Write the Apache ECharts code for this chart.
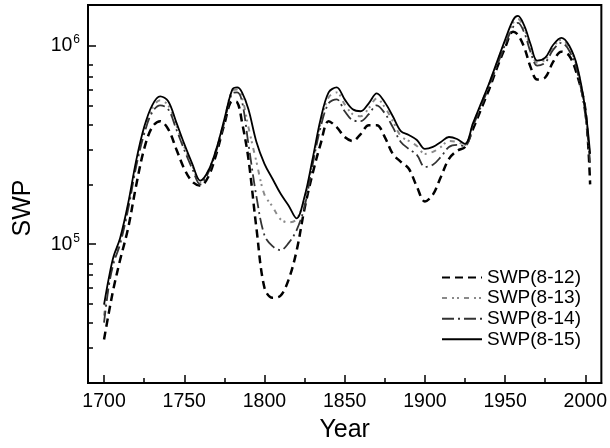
<!DOCTYPE html>
<html>
<head>
<meta charset="utf-8">
<script src="https://cdn.jsdelivr.net/npm/echarts@6/dist/echarts.min.js"></script>
<style>
  html, body { margin: 0; padding: 0; background: #fff; }
  #chart { width: 610px; height: 448px; }
</style>
</head>
<body>
<div id="chart"></div>
<script>
// values
const years = [1700, 1703, 1706, 1710, 1715, 1720, 1725, 1730, 1735, 1740, 1745, 1750, 1755, 1760, 1765, 1770, 1775, 1780, 1783, 1786,
  1790, 1795, 1800, 1805, 1810, 1815, 1820, 1825, 1830, 1835, 1840, 1845, 1850, 1855, 1860, 1865, 1870, 1875, 1880, 1885,
  1890, 1895, 1900, 1905, 1910, 1915, 1920, 1925, 1930, 1935, 1940, 1945, 1950, 1955, 1958, 1962, 1966, 1970, 1975, 1980,
  1985, 1990, 1995, 2000, 2003];

const swp12 = [33150, 45220, 60290, 83200, 120200, 197100, 301700, 388500, 416100, 379700, 301700, 239700, 206400, 197100, 218600, 284800, 402000, 523800, 517800, 411300,
  268900, 120200, 60290, 53740, 54990, 66100, 92270, 151300, 226300, 319600, 416100, 388500, 346300, 330800, 358500, 397400, 397400, 346300, 284800, 259800,
  239700, 194800, 164000, 177700, 218600, 268900, 294900, 308700, 379700, 477700, 601200, 774400, 974700, 1171700, 1132000, 974700, 774400, 674500, 690300, 829800,
  931000, 889100, 706400, 477700, 200000];

const swp13 = [43690, 63860, 83200, 103500, 154800, 253900, 375400, 483200, 529800, 500200, 397400, 308700, 248100, 204000, 234200, 301700, 420900, 594300, 601200, 548400,
  388500, 259800, 177700, 154800, 133400, 128800, 133400, 169700, 259800, 406700, 548400, 580800, 506000, 451000, 440700, 483200, 542100, 488800, 416100, 350300,
  330800, 312300, 284800, 291500, 308700, 330800, 327000, 315900, 402000, 506000, 636900, 820300, 1044500, 1299600, 1360700, 1212800, 963500, 820300, 849100, 986000,
  1068700, 974700, 765500, 461500, 268900];

const swp14 = [40310, 61690, 80380, 100000, 149600, 245200, 358500, 461500, 500200, 477700, 379700, 298200, 239700, 199400, 228900, 294900, 411300, 574200, 580800, 523800,
  319600, 173700, 110900, 97730, 93340, 101160, 117470, 154800, 251000, 388500, 511900, 535900, 466800, 420900, 416100, 451000, 500200, 456200, 388500, 327000,
  301700, 281600, 245200, 251000, 275200, 308700, 315900, 312300, 393000, 494400, 622300, 792500, 1009000, 1241000, 1299600, 1158300, 920300, 792500, 820300, 952600,
  1032500, 941600, 739600, 445800, 253900];

const swp15 = [49600, 67600, 87100, 107100, 160200, 262800, 388500, 500200, 554700, 523800, 411300, 319600, 253900, 208800, 234200, 301700, 425800, 601200, 615200, 580800,
  477700, 327000, 253900, 213600, 179800, 156600, 134900, 173700, 268900, 425800, 580800, 615200, 535900, 477700, 466800, 511900, 574200, 517800, 440700, 371100,
  354400, 334600, 301700, 308700, 327000, 346300, 338500, 319600, 406700, 511900, 644300, 829800, 1068700, 1345000, 1409000, 1255500, 1009000, 839400, 868800, 1009000,
  1093600, 997500, 783300, 477700, 284800];

const seriesNames = ['SWP(8-12)', 'SWP(8-13)', 'SWP(8-14)', 'SWP(8-15)'];
const xLabelTicks = [1700, 1750, 1800, 1850, 1900, 1950, 2000];
const xMinorTicks = [1725, 1775, 1825, 1875, 1925, 1975];
const yLabelTicks = [1e5, 1e6];
const yMinorTicks = [3e4, 4e4, 5e4, 6e4, 7e4, 8e4, 2e5, 3e5, 4e5, 5e5, 6e5, 7e5, 8e5];

const font = 'Liberation Sans, Arial, sans-serif';
const pairs = vals => years.map((y, i) => [y, vals[i]]);

const lineSeries = (name, vals, style) => ({
  name: name,
  type: 'line',
  symbol: 'none',
  smooth: 0.35,
  xAxisIndex: 0,
  yAxisIndex: 0,
  lineStyle: style,
  itemStyle: { color: style.color },
  data: pairs(vals),
  z: 3
});

const chart = echarts.init(document.getElementById('chart'));
chart.setOption({
  animation: false,
  backgroundColor: '#fff',
  grid: { left: 88, right: 6, top: 5, bottom: 62, show: true, borderColor: '#000', borderWidth: 2, backgroundColor: 'transparent' },
  legend: {
    orient: 'vertical',
    left: 441,
    top: 268,
    padding: 0,
    itemWidth: 40,
    itemHeight: 19,
    itemGap: 1.6,
    selectedMode: false,
    data: seriesNames,
    itemStyle: { opacity: 0 },
    textStyle: { fontFamily: font, fontSize: 19, color: '#000' }
  },
  xAxis: [
    {
      type: 'value', min: 1690, max: 2010, position: 'bottom',
      name: 'Year', nameLocation: 'middle', nameGap: 35,
      nameTextStyle: { fontFamily: font, fontSize: 25, color: '#000' },
      axisLine: { lineStyle: { color: '#000', width: 2 } },
      axisTick: { inside: true, length: 8, lineStyle: { color: '#000', width: 1.5 }, customValues: xLabelTicks },
      axisLabel: { customValues: xLabelTicks, formatter: v => String(v), fontFamily: font, fontSize: 19.5, color: '#000', margin: 9 },
      splitLine: { show: false }
    },
    {
      type: 'value', min: 1690, max: 2010, position: 'bottom', offset: 0,
      axisLine: { show: false },
      axisTick: { inside: true, length: 5, lineStyle: { color: '#000', width: 1.5 }, customValues: xMinorTicks },
      axisLabel: { show: false },
      splitLine: { show: false }
    }
  ],
  yAxis: [
    {
      type: 'log', logBase: 10, min: 2e4, max: 1.6e6, position: 'left',
      name: 'SWP', nameLocation: 'middle', nameGap: 52,
      nameTextStyle: { fontFamily: font, fontSize: 25, color: '#000', padding: [0, 28, 0, 0] },
      axisLine: { show: true, lineStyle: { color: '#000', width: 2 } },
      axisTick: { inside: true, length: 8, lineStyle: { color: '#000', width: 1.5 }, customValues: yLabelTicks },
      axisLabel: {
        customValues: yLabelTicks,
        margin: 8,
        formatter: v => '10{s|' + Math.round(Math.log10(v)) + '}',
        rich: {
          s: { fontFamily: font, fontSize: 12, color: '#000', padding: [0, 0, 11, 1] }
        },
        fontFamily: font, fontSize: 19.5, color: '#000'
      },
      splitLine: { show: false }
    },
    {
      type: 'log', logBase: 10, min: 2e4, max: 1.6e6, position: 'left', offset: 0,
      axisLine: { show: false },
      axisTick: { inside: true, length: 5, lineStyle: { color: '#000', width: 1.5 }, customValues: yMinorTicks },
      axisLabel: { show: false },
      splitLine: { show: false }
    }
  ],
  series: [
    lineSeries(seriesNames[0], swp12, { color: '#000', width: 2.5, type: [8, 5] }),
    lineSeries(seriesNames[1], swp13, { color: '#8a8a8a', width: 2, type: [5, 5, 2, 3, 2, 5] }),
    lineSeries(seriesNames[2], swp14, { color: '#333', width: 1.8, type: [12, 4, 2, 4] }),
    lineSeries(seriesNames[3], swp15, { color: '#000', width: 1.8, type: 'solid' })
  ]
});
</script>
</body>
</html>
